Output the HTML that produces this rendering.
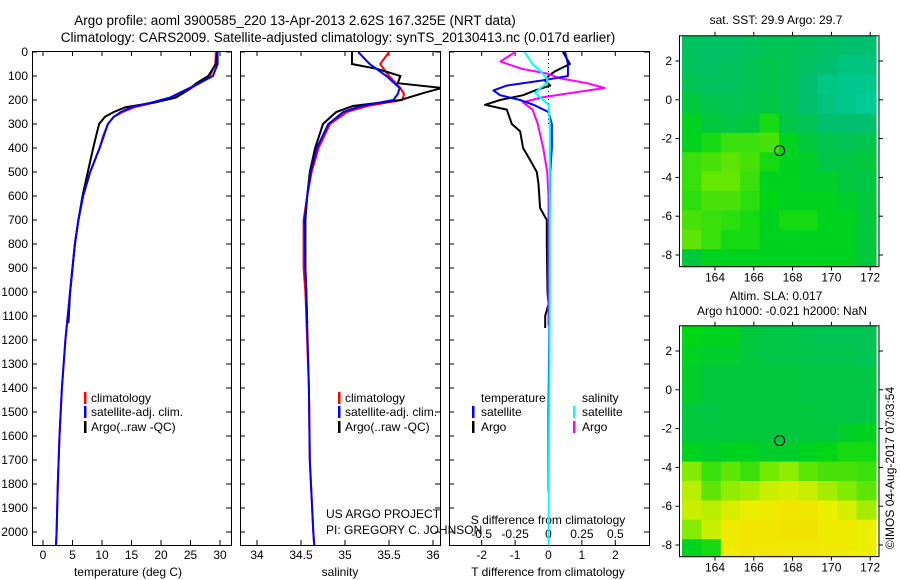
<!DOCTYPE html>
<html><head><meta charset="utf-8">
<style>
html,body{margin:0;padding:0;background:#fff;}
svg{display:block;font-family:"Liberation Sans",sans-serif;}
</style></head>
<body>
<svg id="c" width="900" height="580" viewBox="0 0 900 580">
<text x="295" y="25" font-size="13.5" text-anchor="middle">Argo profile: aoml 3900585_220 13-Apr-2013 2.62S 167.325E (NRT data)</text>
<text x="338" y="42" font-size="13.5" text-anchor="middle">Climatology: CARS2009. Satellite-adjusted climatology: synTS_20130413.nc (0.017d earlier)</text>
<text x="776" y="24" font-size="12" text-anchor="middle">sat. SST: 29.9 Argo: 29.7</text>
<text x="776" y="300" font-size="12" text-anchor="middle">Altim. SLA: 0.017</text>
<text x="782" y="315" font-size="12" text-anchor="middle">Argo h1000: -0.021 h2000: NaN</text>
<text x="326" y="518" font-size="12">US ARGO PROJECT</text>
<text x="326" y="534" font-size="12">PI: GREGORY C. JOHNSON</text>
<text transform="translate(894,468) rotate(-90)" font-size="12" text-anchor="middle">©IMOS 04-Aug-2017 07:03:54</text>
<g id="g"></g>
</svg>
<script>
// ---- data ----
const depthTicks=[0,100,200,300,400,500,600,700,800,900,1000,1100,1200,1300,1400,1500,1600,1700,1800,1900,2000];
const tTicks=[0,5,10,15,20,25,30];
const sTicks=[34,34.5,35,35.5,36];
const sTickLabels=["34","34.5","35","35.5","36"];
const dTTicks=[-2,-1,0,1,2];
const dSTicks=[-0.5,-0.25,0,0.25,0.5];
const dSTickLabels=["-0.5","-0.25","0","0.25","0.5"];

const tDepth=[0,50,100,130,160,190,210,230,250,270,300,350,400,500,600,700,800,900,1000,1200,1400,1600,1800,2000,2055];
const tClim=[29.3,29.2,28.3,26.5,24.5,22,19,15.5,13.5,12,11,10.2,9.6,8,6.8,6,5.4,5,4.6,3.8,3.2,2.8,2.5,2.3,2.2];
const tSat=[29.6,29.6,28.8,26.5,24,21.5,18.5,15,13.2,12,11,10.3,9.6,8,6.8,6,5.4,5,4.6,3.8,3.2,2.8,2.5,2.3,2.2];
const argoDepth=[0,50,100,130,160,190,210,230,250,270,300,350,400,500,600,700,800,900,1000,1130];
const tArgo=[29.5,29.3,28,26,24.5,22.5,19,14,12,10.5,9.5,9,8.5,7.6,6.7,6,5.4,5,4.6,4.3];

const sDepth=[0,50,100,150,175,200,225,250,300,400,500,600,700,900,1000,1400,1700,2000,2055];
const sClim=[35.5,35.4,35.5,35.63,35.67,35.65,35.25,35.02,34.83,34.7,34.62,34.57,34.53,34.53,34.55,34.59,34.6,34.64,34.65];
const sSat=[35.15,35.28,35.47,35.62,35.6,35.55,35.18,34.98,34.81,34.68,34.61,34.57,34.54,34.55,34.56,34.59,34.6,34.64,34.65];
const sArgoDepth=[0,50,70,100,130,150,170,200,225,250,300,400,500,600,700,900,1000,1130];
const sArgo=[35.08,35.08,35.36,35.63,35.6,36.1,35.9,35.63,35.09,34.9,34.75,34.66,34.6,34.57,34.55,34.55,34.56,34.57];

const dDepthA=[0,50,80,100,120,140,160,180,200,220,240,300,330,400,450,500,550,650,700,800,1000,1050,1100,1150];
const dTArgo=[0.43,0.64,0.2,0,-0.1,0.05,-0.4,-0.76,-1.45,-1.9,-1.25,-1.1,-0.85,-0.76,-0.55,-0.35,-0.3,-0.25,-0.05,-0.05,-0.03,0,-0.1,-0.1];
const dDepthS=[0,50,100,120,140,160,180,200,220,250,300,400,500,700,1000,1200,1500,1830];
const dTSat=[0.5,0.58,0.58,-0.25,-1.25,-1.65,-1.45,-0.85,-0.45,0,0.1,0.1,0.05,0.03,0.03,0.02,0,0];
const dSDepthA=[0,40,70,90,110,130,150,170,190,210,240,300,400,500,600,700,1000,1140];
const dSArgo=[-0.25,-0.36,-0.2,-0.01,0.09,0.29,0.42,0.18,-0.06,-0.19,-0.12,-0.08,-0.04,-0.01,0,0,0,0];
const dSDepthS=[0,50,80,110,130,150,170,190,220,300,500,1000,2055];
const dSSat=[-0.18,-0.12,-0.06,-0.01,-0.01,-0.06,-0.1,-0.06,0,0.01,0.01,0.01,0];

const lonTicks=[164,166,168,170,172];
const latTicks=[2,0,-2,-4,-6,-8];
const floatLon=167.33, floatLat=-2.62;
const sstGrid=[
[.35,.33,.33,.35,.38,.38,.35,.33,.3,.3],
[.35,.33,.35,.38,.4,.38,.33,.3,.25,.25],
[.38,.35,.35,.38,.4,.38,.3,.22,.2,.2],
[.45,.4,.38,.4,.42,.38,.3,.25,.2,.15],
[.5,.45,.42,.45,.55,.42,.38,.3,.3,.3],
[.5,.55,.6,.6,.62,.5,.45,.4,.38,.4],
[.6,.62,.65,.62,.55,.5,.48,.42,.42,.45],
[.6,.66,.66,.6,.5,.5,.48,.48,.45,.42],
[.58,.62,.62,.58,.52,.5,.5,.5,.48,.45],
[.62,.6,.58,.55,.5,.55,.55,.5,.5,.45],
[.65,.6,.55,.55,.5,.5,.5,.5,.5,.45],
[.45,.5,.5,.5,.5,.5,.5,.5,.5,.45]];
const slaGrid=[
[.52,.5,.5,.45,.42,.42,.4,.38,.38,.38],
[.5,.48,.48,.45,.42,.42,.4,.4,.4,.38],
[.48,.45,.45,.45,.45,.45,.42,.42,.42,.42],
[.48,.45,.45,.45,.45,.45,.42,.42,.42,.42],
[.45,.43,.45,.45,.45,.45,.45,.43,.43,.43],
[.45,.45,.45,.45,.45,.45,.45,.45,.48,.5],
[.5,.48,.5,.5,.48,.48,.5,.52,.55,.55],
[.7,.6,.65,.6,.68,.72,.65,.62,.62,.6],
[.78,.65,.72,.75,.8,.82,.8,.75,.7,.65],
[.8,.78,.82,.85,.88,.9,.9,.85,.82,.75],
[.7,.8,.88,.9,.9,.92,.92,.88,.88,.85],
[.5,.55,.88,.9,.9,.9,.9,.88,.88,.85]];

// ---- drawing ----
const NS="http://www.w3.org/2000/svg";
const G=document.getElementById('g');
function mk(tag,attrs,parent){const e=document.createElementNS(NS,tag);for(const k in attrs)e.setAttribute(k,attrs[k]);(parent||G).appendChild(e);return e;}
const Y0=52, YTOP=51, YBOT=545;
const yD=d=>Y0+d*0.24;
const xT=v=>43+v*5.9;
const xS=v=>257+(v-34)*88;
const xDT=v=>548.5+v*33.4;
const xDS=v=>548.5+v*133.6;

function panel(x0,x1,name){
  const r=mk('rect',{x:x0+0.5,y:YTOP+0.5,width:x1-x0,height:YBOT-YTOP,fill:'none',stroke:'#000','stroke-width':1});
  
  
  depthTicks.forEach(d=>{
    mk('line',{x1:x0,x2:x0+5,y1:yD(d),y2:yD(d),stroke:'#000'});
    mk('line',{x1:x1-5,x2:x1,y1:yD(d),y2:yD(d),stroke:'#000'});
  });
}
function xticks(vals,labels,fx,ylab,top){
  vals.forEach((v,i)=>{
    const x=fx(v);
    mk('line',{x1:x,x2:x,y1:YBOT-5,y2:YBOT,stroke:'#000'});
    if(top) mk('line',{x1:x,x2:x,y1:YTOP,y2:YTOP+5,stroke:'#000'});
    const t=mk('text',{x:x,y:ylab,'font-size':12,'text-anchor':'middle'});
    t.textContent=labels[i];
    
    
  });
}
function line(xs,ds,fx,color,w,name){
  const pts=xs.map((v,i)=>fx(v).toFixed(1)+','+yD(ds[i]).toFixed(1)).join(' ');
  const p=mk('polyline',{points:pts,fill:'none',stroke:color,'stroke-width':w,'stroke-linejoin':'round'});
  
  
}
function txt(x,y,s,name,anchor,size){
  const t=mk('text',{x:x,y:y,'font-size':size||12,'text-anchor':anchor||'start'});
  t.textContent=s;
  
  
}
function legendBar(x,y,color){
  const b=mk('rect',{x:x,y:y-10,width:2.5,height:12,fill:color});
  
  
}

depthTicks.forEach(d=>txt(28,yD(d)+4,String(d),'depth-tick-label','end'));

// panel 1 temperature
panel(32,231,'temperature-panel');
xticks(tTicks,tTicks.map(String),xT,559,true);
txt(128,576,'temperature (deg C)','temperature-axis-title','middle');
line(tClim,tDepth,xT,'#f00',2,'temp-climatology-line');
line(tArgo,argoDepth,xT,'#000',2,'temp-argo-line');
line(tSat,tDepth,xT,'#00f',2,'temp-satellite-line');
legendBar(84,402,'#f00');txt(91,402,'climatology','legend-climatology');
legendBar(84,416,'#00f');txt(91,416,'satellite-adj. clim.','legend-satellite');
legendBar(84,431,'#000');txt(91,431,'Argo(..raw -QC)','legend-argo');

// panel 2 salinity
panel(240,440,'salinity-panel');
xticks(sTicks,sTickLabels,xS,559,true);
txt(340,576,'salinity','salinity-axis-title','middle');
const cp2=mk('clipPath',{id:'cp2'});mk('rect',{x:240,y:YTOP,width:200,height:YBOT-YTOP},cp2);
const g2=mk('g',{'clip-path':'url(#cp2)'});
[[sClim,sDepth,'#f00','sal-climatology-line'],[sArgo,sArgoDepth,'#000','sal-argo-line'],[sSat,sDepth,'#00f','sal-satellite-line']].forEach(a=>{
  const pts=a[0].map((v,i)=>xS(v).toFixed(1)+','+yD(a[1][i]).toFixed(1)).join(' ');
  const p=mk('polyline',{points:pts,fill:'none',stroke:a[2],'stroke-width':2},g2);
  
  
});
legendBar(338,402,'#f00');txt(345,402,'climatology','legend-climatology-2');
legendBar(338,416,'#00f');txt(345,416,'satellite-adj. clim.','legend-satellite-2');
legendBar(338,431,'#000');txt(345,431,'Argo(..raw -QC)','legend-argo-2');

// panel 3 differences
panel(449,649,'difference-panel');
xticks(dTTicks,dTTicks.map(String),xDT,559,false);
dSTicks.forEach(v=>mk('line',{x1:xDS(v),x2:xDS(v),y1:YTOP,y2:YTOP+5,stroke:'#000'}));
dSTicks.forEach((v,i)=>txt(xDS(v),538,dSTickLabels[i],'s-diff-tick-label','middle'));
txt(548,524,'S difference from climatology','s-diff-axis-title','middle');
txt(548,576,'T difference from climatology','t-diff-axis-title','middle');
mk('line',{x1:548.5,x2:548.5,y1:YTOP,y2:yD(300),stroke:'#000','stroke-dasharray':'1,3'});
line(dTArgo,dDepthA,xDT,'#000',2,'t-diff-argo-line');
line(dSArgo,dSDepthA,xDS,'#f0f',2,'s-diff-argo-line');
line(dTSat,dDepthS,xDT,'#00f',2,'t-diff-satellite-line');
line(dSSat,dSDepthS,xDS,'#0ff',2,'s-diff-satellite-line');
txt(481,402,'temperature','legend-temperature-header');
txt(582,402,'salinity','legend-salinity-header');
legendBar(472,416,'#00f');txt(481,416,'satellite','legend-t-satellite');
legendBar(472,431,'#000');txt(481,431,'Argo','legend-t-argo');
legendBar(573,416,'#0ff');txt(582,416,'satellite','legend-s-satellite');
legendBar(573,431,'#f0f');txt(582,431,'Argo','legend-s-argo');

// maps
const stops=[[0,[0,215,200]],[0.3,[0,192,110]],[0.45,[0,200,60]],[0.52,[0,215,20]],[0.7,[130,235,0]],[0.85,[235,240,0]],[1,[250,210,0]]];
function cmap(v){for(let i=1;i<stops.length;i++){if(v<=stops[i][0]){const a=stops[i-1],b=stops[i],t=(v-a[0])/(b[0]-a[0]);return 'rgb('+a[1].map((c,k)=>Math.round(c+(b[1][k]-c)*t)).join(',')+')';}}return 'rgb(250,210,0)';}
function map(grid,top,name){
  const X0=679.5,X1=879,lon0=162.3,lat0=3.3,s=19.4;
  const xl=l=>715+(l-164)*s;
  const yl=l=>top+27+(2-l)*s;
  const mt=yl(lat0), mb=yl(-8.6);
  const g=mk('g',{});
  
  
  grid.forEach((row,r)=>row.forEach((v,c)=>{
    const la=lat0-r, lo=lon0+c;
    const y1=yl(la), y2=Math.min(yl(la-1),mb);
    const x2=Math.min(xl(lo+1),X1);
    const cell=mk('rect',{x:xl(lo).toFixed(1),y:y1.toFixed(1),width:(x2-xl(lo)+0.6).toFixed(1),height:(y2-y1+0.6).toFixed(1),fill:cmap(v)},g);
    
    
  }));
  mk('rect',{x:X0,y:mt,width:X1-X0,height:mb-mt,fill:'none',stroke:'#000'});
  lonTicks.forEach(l=>{const x=xl(l);mk('line',{x1:x,x2:x,y1:mt-4,y2:mt,stroke:'#000'});mk('line',{x1:x,x2:x,y1:mb,y2:mb+4,stroke:'#000'});txt(x,mb+15,String(l),'lon-tick-label','middle');});
  latTicks.forEach(l=>{const y=yl(l);mk('line',{x1:X0-4,x2:X0,y1:y,y2:y,stroke:'#000'});mk('line',{x1:X1,x2:X1+4,y1:y,y2:y,stroke:'#000'});txt(672,y+4,String(l),'lat-tick-label','end');});
  const c=mk('circle',{cx:xl(floatLon),cy:yl(floatLat),r:5,fill:'none',stroke:'#000'});
  
  
}
map(sstGrid,34,'sst-map');
map(slaGrid,324,'sla-map');
</script>
</body></html>
